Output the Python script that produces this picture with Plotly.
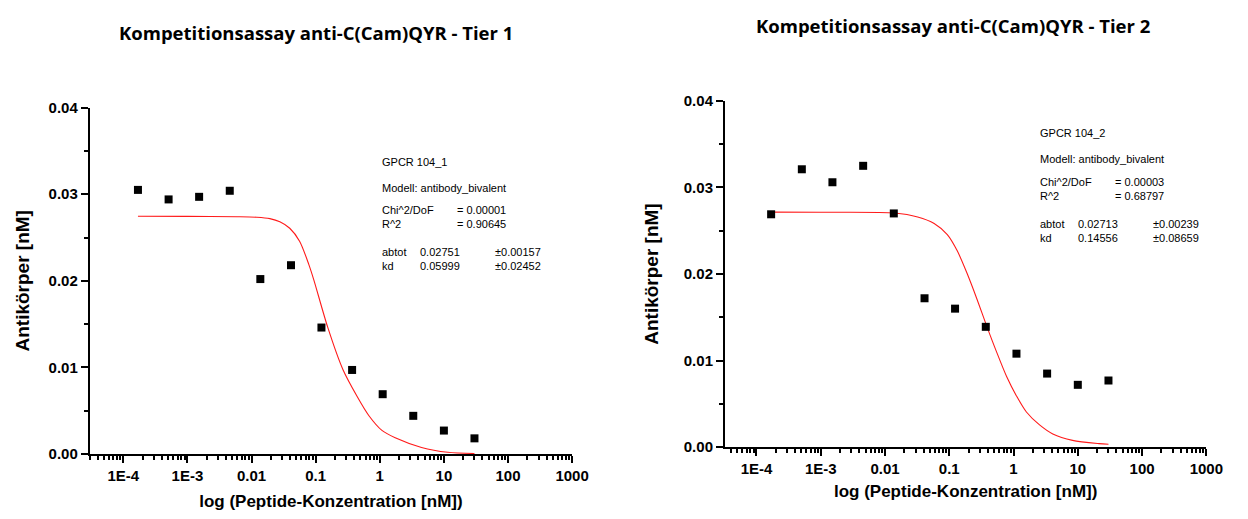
import plotly.graph_objects as go

# ---------------- data ----------------
conc = [1.69e-4, 5.08e-4, 1.52e-3, 4.57e-3, 0.0137, 0.0412, 0.123, 0.370, 1.11, 3.33, 10.0, 30.0]
tier1_y = [0.0305, 0.0294, 0.0297, 0.0304, 0.0202, 0.0218, 0.0146, 0.0097, 0.0069, 0.0044, 0.0027, 0.0018]
tier2_y = [0.0269, 0.0321, 0.0306, 0.0325, 0.0270, 0.0172, 0.0160, 0.0139, 0.0108, 0.0085, 0.0072, 0.0077]

fit1_x = [1.69e-4, 1.0e-3, 0.00593, 0.0121, 0.0193, 0.0276, 0.0394, 0.0561, 0.0783, 0.0935, 0.154,
          0.267, 0.446, 0.673, 1.08, 1.74, 4.48, 11.5, 30.0]
fit1_y = [0.02745, 0.02744, 0.02740, 0.02734, 0.02718, 0.02682, 0.02607, 0.02458, 0.02187, 0.02011, 0.01464,
          0.00972, 0.00660, 0.00444, 0.00272, 0.00187, 0.00075, 0.00019, 0.00005]

fit2_x = [1.69e-4, 1.0e-3, 0.0141, 0.0322, 0.0582, 0.0932, 0.133, 0.189, 0.270, 0.385, 0.548, 0.780,
          1.11, 1.585, 2.54, 4.08, 8.28, 21.3, 30.0]
fit2_y = [0.02715, 0.02714, 0.02705, 0.02659, 0.02584, 0.02455, 0.02268, 0.02008, 0.01709, 0.01393, 0.01095,
          0.00816, 0.00592, 0.00406, 0.00257, 0.00153, 0.00078, 0.00041, 0.00034]

x_tickvals = [1e-4, 1e-3, 1e-2, 1e-1, 1, 10, 100, 1000]
x_ticktext = ["1E-4", "1E-3", "0.01", "0.1", "1", "10", "100", "1000"]
y_tickvals = [0.0, 0.01, 0.02, 0.03, 0.04]
y_ticktext = ["0.00", "0.01", "0.02", "0.03", "0.04"]

titles = ["Kompetitionsassay anti-C(Cam)QYR - Tier 1", "Kompetitionsassay anti-C(Cam)QYR - Tier 2"]
x_title = "log (Peptide-Konzentration [nM])"
y_title = "Antikörper [nM]"

info1 = {"name": "GPCR 104_1", "model": "Modell: antibody_bivalent", "chi": "0.00001", "r2": "0.90645",
         "abtot": "0.02751", "abtot_err": "0.00157", "kd": "0.05999", "kd_err": "0.02452"}
info2 = {"name": "GPCR 104_2", "model": "Modell: antibody_bivalent", "chi": "0.00003", "r2": "0.68797",
         "abtot": "0.02713", "abtot_err": "0.00239", "kd": "0.14556", "kd_err": "0.08659"}

# ---------------- layout helpers ----------------
W, H = 1248, 519
def fx(p):
    return p / W
def fy(p):
    return 1 - p / H

minor_vals = [m * 10.0 ** e for e in range(-5, 3) for m in range(2, 10)]

AX_FONT = "Liberation Sans, Arial, sans-serif"

fig = go.Figure()

for i, (yv, fxv, fyv) in enumerate([(tier1_y, fit1_x, fit1_y), (tier2_y, fit2_x, fit2_y)]):
    xa = "x" if i == 0 else "x2"
    ya = "y" if i == 0 else "y2"
    fig.add_trace(go.Scatter(x=fxv, y=fyv, mode="lines", xaxis=xa, yaxis=ya,
                             line=dict(color="#ff1a1a", width=1.1, shape="spline", smoothing=0.8),
                             showlegend=False))
    fig.add_trace(go.Scatter(x=conc, y=yv, mode="markers", xaxis=xa, yaxis=ya,
                             marker=dict(symbol="square", size=8, color="black"),
                             showlegend=False, cliponaxis=False))

def xaxis_cfg(dom, rng, anchor, standoff):
    return dict(domain=dom, type="log", range=rng, anchor=anchor,
                showline=True, linecolor="black", linewidth=2,
                showgrid=False, zeroline=False,
                ticks="outside", ticklen=7, tickwidth=2, tickcolor="black",
                tickmode="array", tickvals=x_tickvals, ticktext=x_ticktext,
                tickfont=dict(family=AX_FONT, size=15, color="black", weight="bold"),
                minor=dict(tickmode="array", tickvals=minor_vals, ticks="outside",
                           ticklen=4, tickwidth=1.5, tickcolor="black", showgrid=False),
                title=dict(text=x_title, standoff=standoff,
                           font=dict(family=AX_FONT, size=17, color="black", weight="bold")))

def yaxis_cfg(dom, anchor, standoff):
    return dict(domain=dom, range=[0, 0.04], anchor=anchor,
                showline=True, linecolor="black", linewidth=2,
                showgrid=False, zeroline=False,
                ticks="outside", ticklen=7, tickwidth=2, tickcolor="black",
                tickmode="array", tickvals=y_tickvals, ticktext=y_ticktext,
                tickfont=dict(family=AX_FONT, size=15, color="black", weight="bold"),
                minor=dict(dtick=0.005, ticks="outside", ticklen=4, tickwidth=1.5,
                           tickcolor="black", showgrid=False),
                title=dict(text=y_title, standoff=standoff,
                           font=dict(family=AX_FONT, size=19, color="black", weight="bold")))

fig.update_layout(
    width=W, height=H,
    margin=dict(l=0, r=0, t=0, b=0),
    paper_bgcolor="white", plot_bgcolor="white",
    xaxis=xaxis_cfg([fx(91), fx(580)], [-4.524, 3], "y", 12),
    yaxis=yaxis_cfg([fy(460), fy(102)], "x", 14),
    xaxis2=xaxis_cfg([fx(735), fx(1223)], [-4.49, 3], "y2", 9),
    yaxis2=yaxis_cfg([fy(453), fy(95)], "x2", 20),
)

annos = []
# titles
for t, cx, cy in [(titles[0], 320, 24), (titles[1], 966, 17)]:
    annos.append(dict(text=t, xref="paper", yref="paper", x=fx(cx), y=fy(cy),
                      xanchor="center", yanchor="middle", showarrow=False,
                      font=dict(family="Open Sans, sans-serif", size=18.5, color="black", weight="bold")))

# fit info boxes
IF = dict(family=AX_FONT, size=11, color="black")
for info, x0, y0 in [(info1, 385, 158), (info2, 1052, 128.5)]:
    rows = [
        (0, 0, info["name"]),
        (0, 27, info["model"]),
        (0, 57.5, "Chi^2/DoF<br>R^2"),
        (76.5, 57.5, "= " + info["chi"] + "<br>= " + info["r2"]),
        (0, 100.75, "abtot<br>kd"),
        (38.5, 100.75, info["abtot"] + "<br>" + info["kd"]),
        (115, 100.75, "±" + info["abtot_err"] + "<br>±" + info["kd_err"]),
    ]
    for dx, dy, txt in rows:
        annos.append(dict(text=txt, xref="paper", yref="paper", x=fx(x0 + dx), y=fy(y0 + dy),
                          xanchor="left", yanchor="middle", align="left", showarrow=False, font=IF))

fig.update_layout(annotations=annos)
fig.write_html("out.html")
